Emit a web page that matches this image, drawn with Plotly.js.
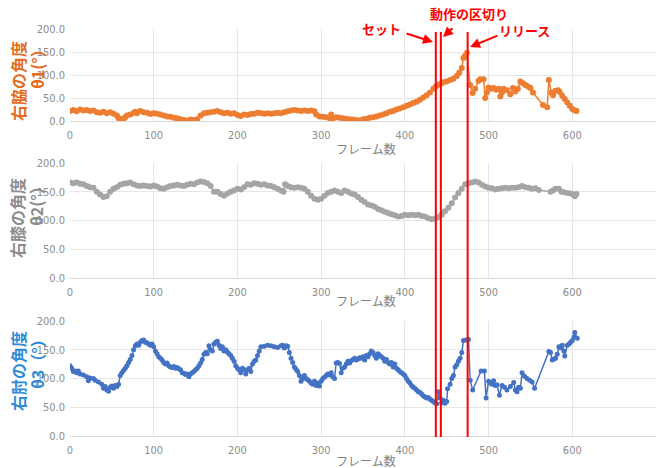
<!DOCTYPE html>
<html><head><meta charset="utf-8">
<script src="https://cdn.plot.ly/plotly-3.0.1.min.js"></script>
<style>html,body{margin:0;padding:0;background:#fff}#c{width:662px;height:468px}</style>
</head><body><div id="c"></div>
<script>
// θ1 right armpit angle
const frames1 = [0,4,8,12,16,20,24,28,32,36,40,44,48,52,56,58,60,62,64,66,68,72,76,78,80,84,88,92,96,100,104,108,112,116,120,124,128,132,136,140,144,148,152,156,160,164,168,172,176,180,184,188,192,196,200,204,208,212,216,220,224,228,232,236,240,244,248,252,256,260,264,268,272,276,280,284,288,292,294,298,302,306,310,312,314,318,322,326,330,334,338,342,346,350,354,358,362,366,370,374,378,382,386,390,394,398,402,406,410,414,418,422,426,430,434,437,440,443,446,450,454,458,462,465,468,470,472,474,478,481,484,488,490,494,496,498,500,503,506,509,512,514,516,518,522,526,529,532,535,538,541,544,547,550,553,565,570,572,575,577,580,583,585,588,591,594,597,600,603,605];
const theta1 = [22,24,21,25,23,24,22,23,19,18,20,17,19,16,12,6,4,3,5,8,12,14,18,20,17,22,19,18,15,17,16,14,12,10,9,7,6,4,2,1,3,2,4,12,17,18,19,20,22,19,17,18,16,17,13,11,14,13,15,16,18,17,16,17,16,17,18,17,19,21,23,24,23,22,23,22,23,21,14,10,9,8,6,14,5,8,7,6,5,4,3,2,1,4,5,7,8,10,12,14,17,20,22,25,27,30,33,36,39,42,46,51,56,62,70,75,79,81,84,86,89,92,98,105,115,137,142,148,78,61,70,87,91,91,50,62,73,70,72,68,70,53,62,70,67,58,72,64,70,86,82,78,75,72,62,35,30,89,62,56,66,67,63,55,48,40,33,26,23,22];
// θ2 right knee angle
const frames2 = [0,4,8,12,16,20,24,28,32,36,40,44,48,52,56,60,64,68,72,76,80,84,88,92,96,100,104,108,112,116,120,124,128,132,136,140,144,148,152,156,160,164,168,172,176,180,184,188,192,196,200,204,208,212,216,220,224,228,232,236,240,244,248,252,255,257,260,264,268,272,276,280,284,288,292,296,300,304,308,312,316,320,324,328,332,336,340,344,348,352,356,360,364,368,372,376,380,384,388,392,396,400,404,408,412,416,420,424,428,432,436,440,444,448,452,456,460,464,468,472,476,480,484,488,492,496,500,504,508,512,516,520,524,528,532,536,540,544,548,552,556,560,574,577,580,584,587,590,594,598,601,603,605];
const theta2 = [166,165,166,164,163,160,158,157,150,145,141,142,150,155,158,162,164,165,166,163,161,160,161,160,159,161,159,156,155,158,160,161,162,161,160,162,164,163,166,168,167,165,160,150,150,146,143,147,150,152,155,154,158,163,162,165,164,162,163,161,160,158,155,152,150,163,160,158,157,158,157,155,150,143,138,136,138,143,148,150,152,150,148,152,150,147,145,141,136,132,128,126,124,120,118,115,113,111,109,107,108,110,109,110,109,110,108,107,104,102,103,106,110,116,122,130,140,148,155,163,165,166,168,166,162,159,157,156,154,155,156,157,156,157,157,158,160,158,157,155,156,153,150,152,155,155,150,149,148,147,145,142,146];
// θ3 right elbow angle
const frames3 = [0,2,4,6,8,10,12,16,20,22,24,28,30,34,38,40,42,44,46,48,50,52,54,56,58,60,62,64,66,68,70,72,74,76,78,80,82,84,86,88,90,92,94,96,98,100,102,104,106,108,110,112,114,116,118,120,122,124,126,128,130,132,134,136,138,140,142,144,146,148,150,152,154,156,158,160,162,164,166,168,170,172,174,176,178,180,182,184,186,188,190,192,194,196,198,200,202,204,206,208,210,212,214,216,218,220,222,224,226,228,232,236,240,244,248,252,254,256,258,260,262,264,266,268,270,272,274,276,278,280,282,284,286,288,290,292,294,296,298,300,302,304,306,308,310,312,314,316,318,320,322,324,326,328,330,332,334,336,338,340,342,344,346,348,350,352,354,356,358,360,362,364,366,368,370,372,374,376,378,380,382,384,386,388,390,392,394,396,398,400,402,404,406,408,410,412,414,416,418,420,422,424,426,428,430,432,434,436,438,440,442,444,446,448,450,451,454,456,458,460,462,464,466,468,470,473,476,478,481,491,495,497,500,502,504,506,508,510,513,516,519,522,526,530,532,534,536,538,540,543,546,549,552,555,572,574,576,578,580,582,584,586,588,590,591,594,596,598,600,602,603,606];
const theta3 = [122,118,112,113,110,113,108,106,103,96,101,100,97,94,90,83,86,80,78,85,87,83,88,86,90,105,110,114,118,122,128,133,140,150,157,160,158,163,166,167,163,162,160,158,160,155,148,143,138,135,132,128,125,127,122,120,119,121,118,119,117,115,110,109,107,108,103,108,110,112,115,118,122,127,133,142,145,143,157,150,148,160,163,165,158,152,155,148,150,146,143,140,135,130,122,118,115,110,118,115,108,115,118,112,125,130,132,140,148,155,156,158,157,155,154,157,158,153,157,156,145,135,128,120,116,112,105,95,100,105,100,98,95,92,90,95,88,92,87,95,100,102,105,108,106,110,103,100,127,128,126,110,118,120,125,130,127,131,133,135,132,134,136,135,138,132,140,138,143,148,145,140,135,143,140,138,135,130,133,128,125,128,120,125,118,115,112,110,108,105,100,95,92,88,85,83,80,77,76,73,70,68,66,67,64,62,60,58,56,77,66,58,62,57,60,82,90,100,105,120,124,130,135,145,166,167,168,97,80,113,113,66,95,92,90,96,88,89,71,88,85,80,86,93,80,77,85,83,110,104,100,97,94,83,147,145,132,134,135,142,155,153,158,148,139,158,160,163,166,172,180,170];
const xTicks = [0,100,200,300,400,500,600,700];
const yTicks = [0,50,100,150,200];
const xTitle = 'フレーム数';
const yTitleMain = ['右脇の角度','右膝の角度','右肘の角度'];
const yTitleSub = ['θ1(°）','θ2(°）','θ3（°）'];
const cutFrames = [437,443,475];
const labels = ['セット','動作の区切り','リリース'];

const cols = ['#ED7D31','#A5A5A5','#4472C4'];
const titleCols = ['#E36C1E','#8C8C8C','#2E8BD6'];
const X = [frames1,frames2,frames3], Y=[theta1,theta2,theta3];
const traces = X.map((xs,i)=>({
  x: xs, y: Y[i], type:'scatter', mode:'lines+markers',
  xaxis: i===0?'x':'x'+(i+1), yaxis: i===0?'y':'y'+(i+1),
  line:{color:cols[i],width:1.5}, marker:{color:cols[i],size:i===2?5:6},
  hoverinfo:'skip', showlegend:false
}));

const H=468, L=70, R=656, PW=R-L;
const px = v => (v-L)/PW;
const py = v => 1 - v/H;
const doms = [[py(121),py(29)],[py(278),py(163)],[py(436),py(321)]];
const layout = {
  width:662, height:468, margin:{l:L,r:662-R,t:0,b:0},
  paper_bgcolor:'#fff', plot_bgcolor:'#fff', showlegend:false,
  font:{family:'"Noto Sans CJK JP", "Liberation Sans Narrow", sans-serif'},
  shapes:[], annotations:[]
};
const tickFont = {family:'"Liberation Sans Narrow", "DejaVu Sans Condensed", sans-serif', size:11, color:'#8c8c8c'};
for(let i=0;i<3;i++){
  const xa = i===0?'xaxis':'xaxis'+(i+1), ya = i===0?'yaxis':'yaxis'+(i+1);
  layout[xa] = {domain:[0,1], anchor: i===0?'y':'y'+(i+1), range:[0,700], tickvals:xTicks, ticktext:xTicks.map(String),
    showgrid:true, gridcolor:'#e6e6e6', gridwidth:1, zeroline:false, showline:true, linecolor:'#d9d9d9', linewidth:1,
    ticks:'', tickfont:tickFont, ticklabelstandoff:4, fixedrange:true};
  layout[ya] = {domain:doms[i], anchor: i===0?'x':'x'+(i+1), range:[0,200], tickvals:yTicks, ticktext:yTicks.map(v=>v.toFixed(1)),
    showgrid:true, gridcolor:'#e6e6e6', gridwidth:1, zeroline:false, showline:false, ticks:'', tickfont:tickFont, ticklabelstandoff:4, fixedrange:true};
}
// x titles
[148,300,460].forEach(yy=>layout.annotations.push({xref:'paper',yref:'paper',x:px(366),y:py(yy),text:xTitle,showarrow:false,
  xanchor:'center',yanchor:'middle',font:{size:12,color:'#7f7f7f',family:'"Noto Sans CJK JP", sans-serif'}}));
// y titles: two rotated lines each, tops aligned
const tFont = i=>({size:16,color:titleCols[i],family:'"Noto Sans CJK JP", sans-serif',weight:'bold'});
[[18,39],[17,176],[18,329]].forEach((p,i)=>{
  layout.annotations.push({xref:'paper',yref:'paper',x:px(p[0]),y:py(p[1]),text:yTitleMain[i],showarrow:false,textangle:-90,
    xanchor:'center',yanchor:'top',font:tFont(i)});
  layout.annotations.push({xref:'paper',yref:'paper',x:px(p[0]+19),y:py(p[1]),text:yTitleSub[i],showarrow:false,textangle:-90,
    xanchor:'center',yanchor:'top',font:tFont(i)});
});
// red lines
cutFrames.forEach(f=>layout.shapes.push({type:'line',xref:'x',yref:'paper',x0:f,x1:f,y0:py(437),y1:py(32),line:{color:'#FF0000',width:2}}));
// labels
const lab = [[381,28],[469,13],[524,31]];
labels.forEach((t,i)=>layout.annotations.push({xref:'paper',yref:'paper',x:px(lab[i][0]),y:py(lab[i][1]),text:t,showarrow:false,
  xanchor:'center',yanchor:'middle',font:{size:13,color:'#FF0000',family:'"Noto Sans CJK JP", sans-serif',weight:'bold'}}));
// arrows [headX, headY, tailX, tailY]
[[433,42,405,33],[443,37,454,27],[470,47,499,35]].forEach(a=>layout.annotations.push({xref:'paper',yref:'paper',
  x:px(a[0]),y:py(a[1]),axref:'pixel',ayref:'pixel',ax:a[2]-a[0],ay:a[3]-a[1],text:'',showarrow:true,
  arrowhead:2,arrowsize:1,arrowwidth:2,arrowcolor:'#FF0000',standoff:0}));
Plotly.newPlot('c',traces,layout,{staticPlot:true,displayModeBar:false});
</script></body></html>
